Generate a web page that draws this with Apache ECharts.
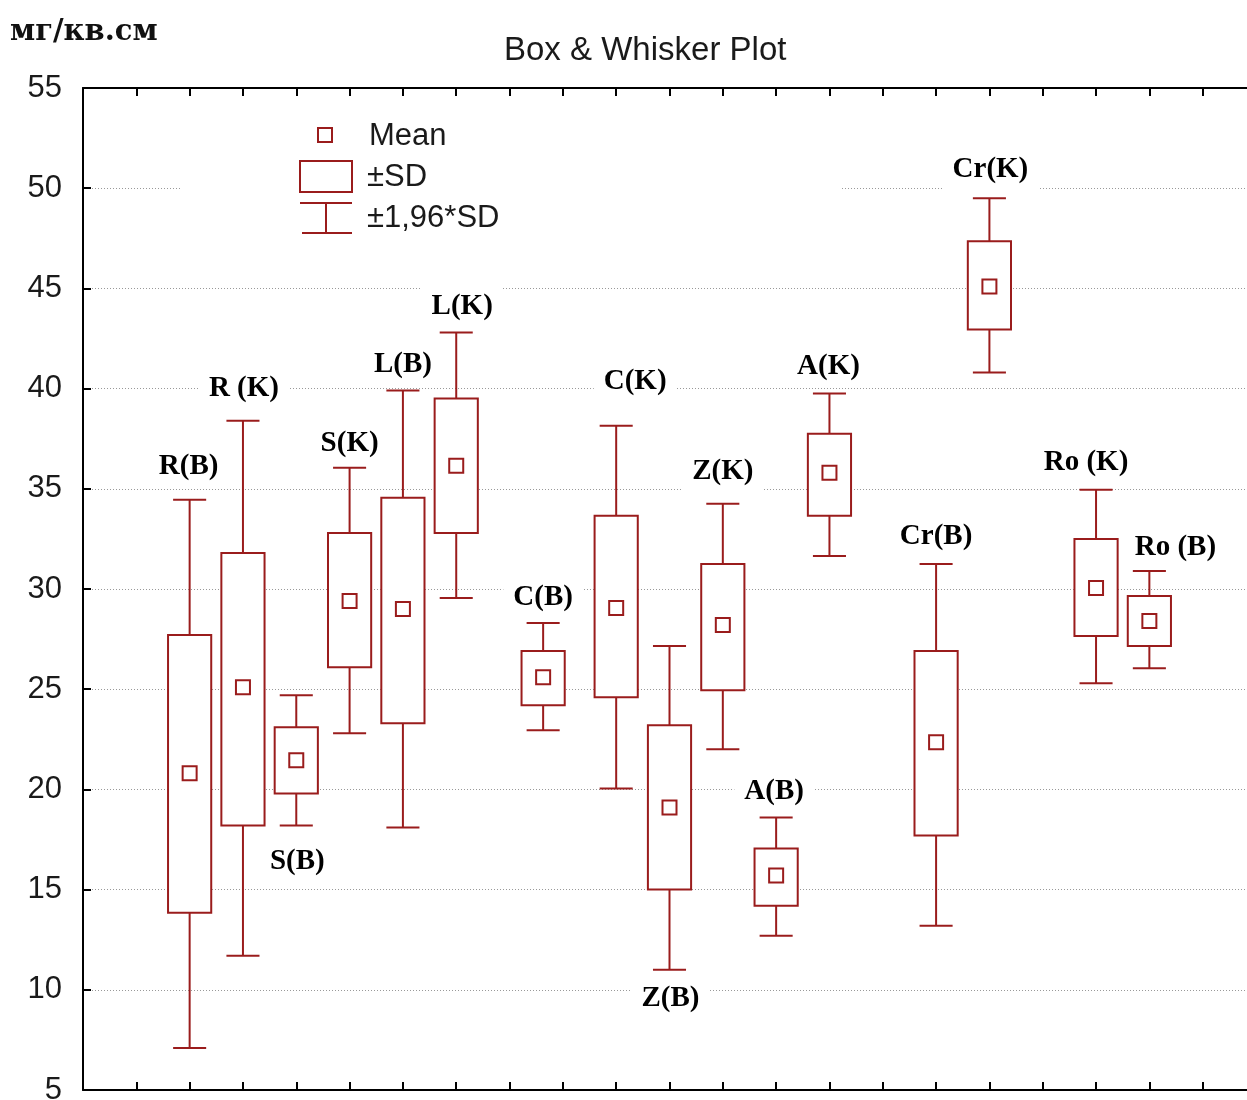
<!DOCTYPE html>
<html><head><meta charset="utf-8">
<script src="https://cdn.jsdelivr.net/npm/echarts@6/dist/echarts.min.js"></script>
<style>html,body{margin:0;padding:0;background:#fff}#c{width:1247px;height:1100px}</style>
</head><body><div id="c"></div>
<script>
// ---- data ----
const groups      = ['R(B)','R (K)','S(B)','S(K)','L(B)','L(K)','C(B)','C(K)','Z(B)','Z(K)','A(B)','A(K)','Cr(B)','Cr(K)','Ro (K)','Ro (B)'];
const xPositions  = [2, 3, 4, 5, 6, 7, 8.63, 10, 11, 12, 13, 14, 16, 17, 19, 20];
const whiskerLow  = [7.1, 11.7, 18.2, 22.8, 18.1, 29.55, 22.95, 20.05, 11.0, 22.0, 12.7, 31.65, 13.2, 40.8, 25.3, 26.05];
const sdLow       = [13.85, 18.2, 19.8, 26.1, 23.3, 32.8, 24.2, 24.6, 15.0, 24.95, 14.2, 33.65, 17.7, 42.95, 27.65, 27.15];
const means       = [20.8, 25.1, 21.45, 29.4, 29.0, 36.15, 25.6, 29.05, 19.1, 28.2, 15.7, 35.8, 22.35, 45.1, 30.05, 28.4];
const sdHigh      = [27.7, 31.8, 23.1, 32.8, 34.55, 39.5, 26.9, 33.65, 23.2, 31.25, 17.05, 37.75, 26.9, 47.35, 32.5, 29.65];
const whiskerHigh = [34.45, 38.4, 24.7, 36.05, 39.9, 42.8, 28.3, 38.15, 27.15, 34.25, 18.6, 39.75, 31.25, 49.5, 34.95, 30.9];
const yMin = 5, yMax = 55, yStep = 5;
const xMin = 0, xMax = 22;

// ---- label placement (pixel offsets from whisker end) ----
const labelSide = ['top','top','bottom','top','top','top','top','top','bottom','top','top','top','top','top','top','top'];
const labelDx   = [-1, 1, 1, 0, 0, 6, 0, 19, 1, 0, -2, -1, 0, 1, -10, 26];
const labelDy   = [-33, -32, 36, -24, -26, -26, -26, -44, 29, -32, -26, -27, -27, -29, -27, -23];

const RED = '#9a1c1c';
const rows = groups.map((g, i) => [xPositions[i], whiskerLow[i], sdLow[i], means[i], sdHigh[i], whiskerHigh[i], i]);

const chart = echarts.init(document.getElementById('c'), null, {renderer: 'canvas'});

function boxItem(params, api) {
  const x = api.value(0);
  const pWL = api.coord([x, api.value(1)]);
  const pBL = api.coord([x, api.value(2)]);
  const pM  = api.coord([x, api.value(3)]);
  const pBH = api.coord([x, api.value(4)]);
  const pWH = api.coord([x, api.value(5)]);
  const unit = api.size([1, 0])[0];
  const bw = unit * 0.81, cw = unit * 0.62, ms = 14;
  const cx = pM[0];
  const ls = {stroke: RED, lineWidth: 2, fill: null};
  return {type: 'group', children: [
    {type: 'line', shape: {x1: cx, y1: pWH[1], x2: cx, y2: pBH[1]}, style: ls},
    {type: 'line', shape: {x1: cx, y1: pBL[1], x2: cx, y2: pWL[1]}, style: ls},
    {type: 'line', shape: {x1: cx - cw/2, y1: pWH[1], x2: cx + cw/2, y2: pWH[1]}, style: ls},
    {type: 'line', shape: {x1: cx - cw/2, y1: pWL[1], x2: cx + cw/2, y2: pWL[1]}, style: ls},
    {type: 'rect', shape: {x: cx - bw/2, y: pBH[1], width: bw, height: pBL[1] - pBH[1]}, style: {stroke: RED, lineWidth: 2, fill: '#fff'}},
    {type: 'rect', shape: {x: cx - ms/2, y: pM[1] - ms/2, width: ms, height: ms}, style: {stroke: RED, lineWidth: 2, fill: '#fff'}}
  ]};
}

function labelItem(params, api) {
  const i = api.value(6);
  const x = api.value(0);
  const yv = labelSide[i] === 'top' ? api.value(5) : api.value(1);
  const p = api.coord([x, yv]);
  return {type: 'text', style: {
    text: groups[i], x: p[0] + labelDx[i], y: p[1] + labelDy[i],
    align: 'center', verticalAlign: 'middle',
    fontFamily: 'Liberation Serif', fontWeight: 'bold', fontSize: 29,
    fill: '#000', backgroundColor: '#fff', padding: [6, 10]
  }};
}

const sansFont = 'Liberation Sans';
const option = {
  animation: false,
  backgroundColor: '#fff',
  title: {text: 'Box & Whisker Plot', left: 499, top: 29,
    textStyle: {fontFamily: sansFont, fontWeight: 'normal', fontSize: 33, color: '#1a1a1a'}},
  grid: {left: 83, top: 88, width: 1173, height: 1002, outerBoundsMode: 'none', containLabel: false},
  xAxis: [
    {type: 'value', min: xMin, max: xMax, interval: 1, position: 'bottom',
     axisLine: {show: true, lineStyle: {color: '#000', width: 2}},
     axisTick: {show: true, inside: true, length: 8, lineStyle: {color: '#000', width: 2}},
     axisLabel: {show: false}, splitLine: {show: false}},
    {type: 'value', min: xMin, max: xMax, interval: 1, position: 'top',
     axisLine: {show: true, lineStyle: {color: '#000', width: 2}},
     axisTick: {show: true, inside: true, length: 8, lineStyle: {color: '#000', width: 2}},
     axisLabel: {show: false}, splitLine: {show: false}}
  ],
  yAxis: {type: 'value', min: yMin, max: yMax, interval: yStep,
    axisLine: {show: true, lineStyle: {color: '#000', width: 2}},
    axisTick: {show: true, inside: true, length: 8, lineStyle: {color: '#000', width: 2}},
    axisLabel: {fontFamily: sansFont, fontSize: 31, color: '#1a1a1a', margin: 21},
    splitLine: {show: true, lineStyle: {color: '#999', width: 1, type: [1, 2]}}},
  graphic: [
    {type: 'text', left: 10, top: 18, z: 10, style: {text: 'мг/кв.см', fontFamily: 'DejaVu Serif', fontWeight: 'bold', fontSize: 29, fill: '#111'}},
    {type: 'rect', z: 1, shape: {x: 180, y: 110, width: 660, height: 135}, style: {fill: '#fff'}},
    {type: 'rect', z: 10, shape: {x: 318, y: 128, width: 14, height: 14}, style: {stroke: RED, lineWidth: 2, fill: '#fff'}},
    {type: 'text', z: 10, style: {text: 'Mean', x: 369, y: 136, verticalAlign: 'middle', fontFamily: sansFont, fontSize: 31, fill: '#1a1a1a'}},
    {type: 'rect', z: 10, shape: {x: 300, y: 161, width: 52, height: 31}, style: {stroke: RED, lineWidth: 2, fill: '#fff'}},
    {type: 'text', z: 10, style: {text: '±SD', x: 367, y: 177, verticalAlign: 'middle', fontFamily: sansFont, fontSize: 31, fill: '#1a1a1a'}},
    {type: 'line', z: 10, shape: {x1: 300, y1: 203, x2: 352, y2: 203}, style: {stroke: RED, lineWidth: 2}},
    {type: 'line', z: 10, shape: {x1: 326, y1: 203, x2: 326, y2: 233}, style: {stroke: RED, lineWidth: 2}},
    {type: 'line', z: 10, shape: {x1: 302, y1: 233, x2: 352, y2: 233}, style: {stroke: RED, lineWidth: 2}},
    {type: 'text', z: 10, style: {text: '±1,96*SD', x: 367, y: 218, verticalAlign: 'middle', fontFamily: sansFont, fontSize: 31, fill: '#1a1a1a'}}
  ],
  series: [
    {type: 'custom', name: 'labels', z: 1, renderItem: labelItem, data: rows, encode: {x: 0, y: [1, 5]}, silent: true},
    {type: 'custom', name: 'boxes', z: 3, renderItem: boxItem, data: rows, encode: {x: 0, y: [1, 2, 3, 4, 5]}, silent: true}
  ]
};
chart.setOption(option);
</script>
</body></html>
